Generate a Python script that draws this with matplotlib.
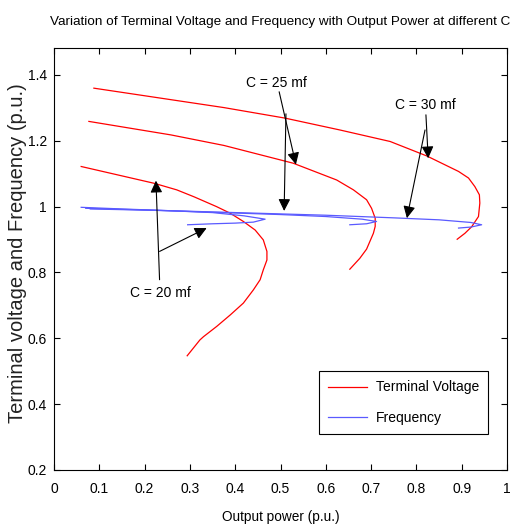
import matplotlib
matplotlib.use('Agg')
import matplotlib.pyplot as plt

# terminal voltage curves (output power, voltage) for C = 20, 25, 30 mf
p_v20 = [0.060, 0.221, 0.271, 0.309, 0.359, 0.389, 0.418, 0.444, 0.462, 0.470, 0.470,
         0.462, 0.455, 0.440, 0.418, 0.389, 0.359, 0.330, 0.322, 0.294]
v20 = [1.122, 1.071, 1.051, 1.030, 1.000, 0.980, 0.955, 0.929, 0.899, 0.864, 0.838,
       0.808, 0.778, 0.747, 0.707, 0.671, 0.636, 0.605, 0.595, 0.547]
p_v25 = [0.077, 0.258, 0.375, 0.528, 0.624, 0.661, 0.690, 0.701, 0.709, 0.709, 0.705,
         0.690, 0.675, 0.653]
v25 = [1.259, 1.218, 1.186, 1.132, 1.081, 1.051, 1.021, 0.995, 0.965, 0.940, 0.919,
       0.871, 0.843, 0.810]
p_v30 = [0.088, 0.375, 0.510, 0.631, 0.742, 0.823, 0.893, 0.915, 0.929, 0.939, 0.940,
         0.937, 0.922, 0.907, 0.890]
v30 = [1.360, 1.301, 1.269, 1.233, 1.198, 1.154, 1.107, 1.087, 1.061, 1.036, 1.011,
       0.970, 0.939, 0.919, 0.901]

# frequency curves
p_f20 = [0.06, 0.15, 0.25, 0.35, 0.42, 0.466, 0.44, 0.40, 0.35, 0.295]
f20 = [0.998, 0.993, 0.988, 0.982, 0.972, 0.962, 0.953, 0.950, 0.948, 0.945]
p_f25 = [0.07, 0.20, 0.35, 0.50, 0.60, 0.68, 0.712, 0.69, 0.653]
f25 = [0.995, 0.990, 0.983, 0.976, 0.970, 0.962, 0.955, 0.948, 0.945]
p_f30 = [0.08, 0.25, 0.45, 0.60, 0.75, 0.85, 0.92, 0.944, 0.92, 0.893]
f30 = [0.993, 0.988, 0.980, 0.974, 0.966, 0.960, 0.952, 0.945, 0.938, 0.935]

xticks = [0, 0.1, 0.2, 0.3, 0.4, 0.5, 0.6, 0.7, 0.8, 0.9, 1]
xticklabels = ['0', '0.1', '0.2', '0.3', '0.4', '0.5', '0.6', '0.7', '0.8', '0.9', '1']
yticks = [0.2, 0.4, 0.6, 0.8, 1.0, 1.2, 1.4]
yticklabels = ['0.2', '0.4', '0.6', '0.8', '1', '1.2', '1.4']

# labels: (text, text pos, [(tail, head), ...])
notes = [
    ('C = 20 mf', (0.234, 0.737), [((0.233, 0.778), (0.225, 1.079)), ((0.233, 0.864), (0.337, 0.935))]),
    ('C = 25 mf', (0.492, 1.376), [((0.497, 1.349), (0.534, 1.128)), ((0.512, 1.282), (0.508, 0.987))]),
    ('C = 30 mf', (0.820, 1.309), [((0.821, 1.279), (0.826, 1.147)), ((0.819, 1.233), (0.779, 0.965))]),
]

plt.rcParams['font.family'] = ['Liberation Sans', 'DejaVu Sans']

red = '#ff0000'
blue = '#5a5aff'

fig = plt.figure(figsize=(5.11, 5.27), dpi=100)
ax = fig.add_axes([0.1057, 0.1082, 0.8865, 0.8007])

ax.plot(p_v20, v20, color=red, lw=0.9, label='Terminal Voltage')
ax.plot(p_v25, v25, color=red, lw=0.9)
ax.plot(p_v30, v30, color=red, lw=0.9)
ax.plot(p_f20, f20, color=blue, lw=0.9, label='Frequency')
ax.plot(p_f25, f25, color=blue, lw=0.9)
ax.plot(p_f30, f30, color=blue, lw=0.9)

for txt, pos, arrows in notes:
    ax.text(pos[0], pos[1], txt, ha='center', va='center', fontsize=10)
    for tail, head in arrows:
        ax.annotate('', xy=head, xytext=tail,
                    arrowprops=dict(arrowstyle='-|>', color='k', lw=0.8,
                                    mutation_scale=18, shrinkA=0, shrinkB=0))

ax.set_xlim(0, 1)
ax.set_ylim(0.2, 1.482)
ax.set_xticks(xticks)
ax.set_xticklabels(xticklabels)
ax.set_yticks(yticks)
ax.set_yticklabels(yticklabels)
ax.tick_params(direction='in', length=4, width=0.8, top=True, right=True, labelsize=10)
ax.tick_params(axis='x', pad=9)
ax.tick_params(axis='y', pad=5)
for s in ax.spines.values():
    s.set_linewidth(0.8)

ax.set_xlabel('Output power (p.u.)', fontsize=9.8, labelpad=10)
ax.set_ylabel('Terminal voltage and Frequency (p.u.)', fontsize=14.5, color='#222222')
ax.yaxis.set_label_coords(-0.06, 0.514)
fig.text(0.548, 0.958, 'Variation of Terminal Voltage and Frequency with Output Power at different C',
         ha='center', va='center', fontsize=9.7)

leg = ax.legend(loc='lower right', bbox_to_anchor=(0.958, 0.085), fontsize=10,
                fancybox=False, edgecolor='k', framealpha=1, borderpad=0.65,
                handlelength=2.8, handletextpad=0.6, labelspacing=1.2, borderaxespad=0)
leg.get_frame().set_linewidth(0.8)

plt.savefig('out.png', dpi=100)
